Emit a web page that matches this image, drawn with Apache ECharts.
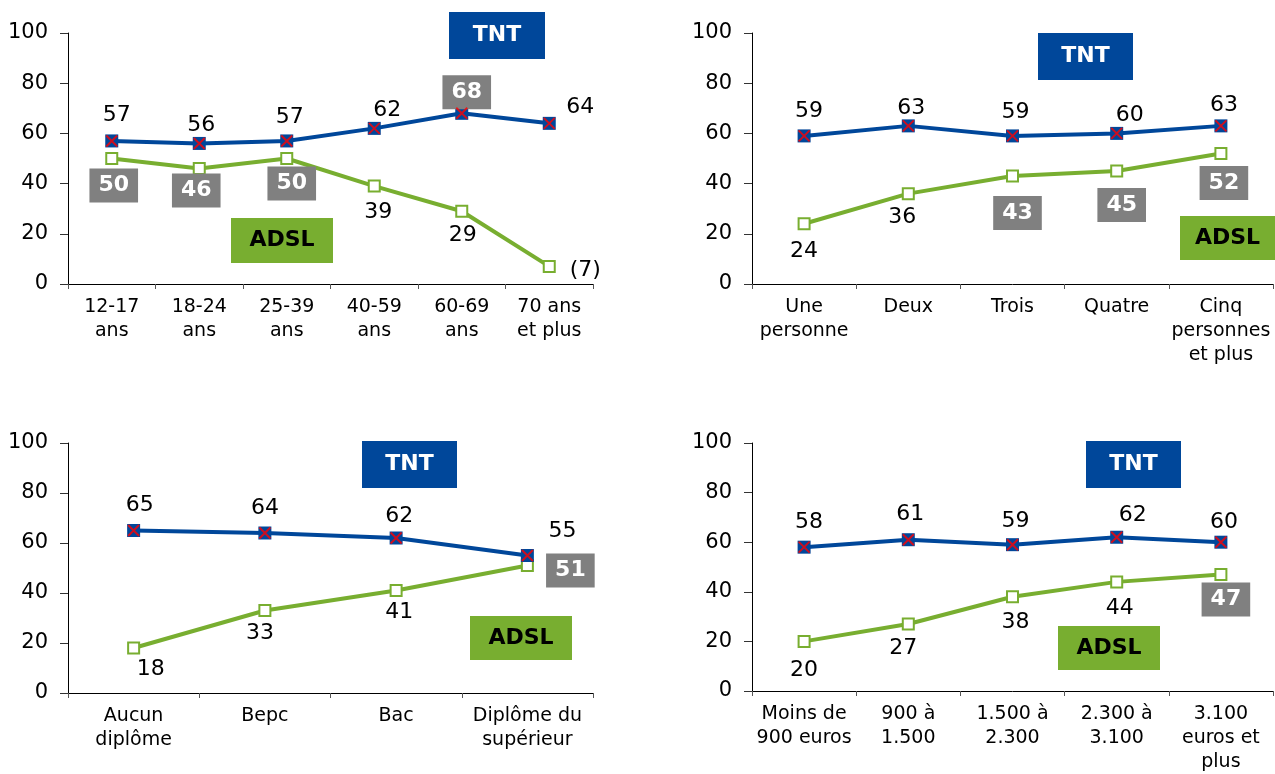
<!DOCTYPE html>
<html>
<head>
<meta charset="utf-8">
<script src="https://cdn.jsdelivr.net/npm/echarts@6/dist/echarts.min.js"></script>
<style>
html,body{margin:0;padding:0;background:#fff;}
#main{width:1275px;height:774px;}
</style>
</head>
<body>
<div id="main"></div>
<script>
// ---- data ----
const cats1 = ['12-17\nans', '18-24\nans', '25-39\nans', '40-59\nans', '60-69\nans', '70 ans\net plus'];
const tnt1 = [57, 56, 57, 62, 68, 64];
const adsl1 = [50, 46, 50, 39, 29, 7];

const cats2 = ['Une\npersonne', 'Deux', 'Trois', 'Quatre', 'Cinq\npersonnes\net plus'];
const tnt2 = [59, 63, 59, 60, 63];
const adsl2 = [24, 36, 43, 45, 52];

const cats3 = ['Aucun\ndiplôme', 'Bepc', 'Bac', 'Diplôme du\nsupérieur'];
const tnt3 = [65, 64, 62, 55];
const adsl3 = [18, 33, 41, 51];

const cats4 = ['Moins de\n900 euros', '900 à\n1.500', '1.500 à\n2.300', '2.300 à\n3.100', '3.100\neuros et\nplus'];
const tnt4 = [58, 61, 59, 62, 60];
const adsl4 = [20, 27, 38, 44, 47];

const yTicks = [0, 20, 40, 60, 80, 100];
const seriesNames = ['TNT', 'ADSL'];

// ---- label placement (kind, dx, dy) ----
const lab1t = [['p',5,-26],['p',2,-18],['p',3,-24],['p',13,-18],['b',5,-21],['p',31,-16]];
const lab1a = [['b',2,27],['b',-3,22],['b',5,25],['p',4,26],['p',1,24],['paren',36,4]];
const lab2t = [['p',5,-25],['p',3,-18],['p',3,-24],['p',13,-18],['p',3,-21]];
const lab2a = [['p',0,28],['p',-6,24],['b',5,37],['b',5,34],['b',3,29.5]];
const lab3t = [['p',6,-25],['p',0,-25],['p',3,-22],['p',35,-24]];
const lab3a = [['p',17,21],['p',-5,23],['p',3,22],['b',43,5]];
const lab4t = [['p',5,-25],['p',2,-25],['p',3,-23],['p',16,-22],['p',3,-20]];
const lab4a = [['p',0,29],['p',-5,24],['p',3,26],['p',3,26],['b',5,25]];

// ---- styles ----
const FONT = 'DejaVu Sans';
const BLUE = '#00479a';
const GREEN = '#78ae30';
const GRAY = '#808080';

const grids = [
  {left: 68, top: 33, width: 525, height: 251},
  {left: 752, top: 33, width: 521, height: 251},
  {left: 68, top: 443, width: 525, height: 250},
  {left: 752, top: 443, width: 521, height: 250}
];

const charts = [
  {cats: cats1, tnt: tnt1, adsl: adsl1, lt: lab1t, la: lab1a},
  {cats: cats2, tnt: tnt2, adsl: adsl2, lt: lab2t, la: lab2a},
  {cats: cats3, tnt: tnt3, adsl: adsl3, lt: lab3t, la: lab3a},
  {cats: cats4, tnt: tnt4, adsl: adsl4, lt: lab4t, la: lab4a}
];

const boxes = [
  {text: 'TNT', x: 449, y: 12, w: 96, h: 47, fill: BLUE, color: '#fff'},
  {text: 'ADSL', x: 231, y: 218, w: 102, h: 45, fill: GREEN, color: '#000'},
  {text: 'TNT', x: 1038, y: 33, w: 95, h: 47, fill: BLUE, color: '#fff'},
  {text: 'ADSL', x: 1180, y: 216, w: 95, h: 44, fill: GREEN, color: '#000'},
  {text: 'TNT', x: 362, y: 441, w: 95, h: 47, fill: BLUE, color: '#fff'},
  {text: 'ADSL', x: 470, y: 616, w: 102, h: 44, fill: GREEN, color: '#000'},
  {text: 'TNT', x: 1086, y: 441, w: 95, h: 47, fill: BLUE, color: '#fff'},
  {text: 'ADSL', x: 1058, y: 626, w: 102, h: 44, fill: GREEN, color: '#000'}
];

function labelFor(spec) {
  const kind = spec[0];
  const base = {show: true, position: 'inside', offset: [spec[1], spec[2]], fontFamily: FONT};
  if (kind === 'b') {
    return Object.assign(base, {
      color: '#fff', fontWeight: 'bold', fontSize: 22, lineHeight: 24,
      backgroundColor: GRAY, padding: [5, 9, 5, 9]
    });
  }
  if (kind === 'paren') {
    return Object.assign(base, {color: '#000', fontSize: 22, formatter: '({c})'});
  }
  return Object.assign(base, {color: '#000', fontSize: 22});
}

const xAxes = [], yAxes = [], series = [];
charts.forEach((c, i) => {
  xAxes.push({
    type: 'category', gridIndex: i, data: c.cats, boundaryGap: true,
    axisLine: {show: true, lineStyle: {color: '#000', width: 1}},
    axisTick: {show: true, length: 5, lineStyle: {color: '#555'}},
    axisLabel: {interval: 0, color: '#000', fontFamily: FONT, fontSize: 19, lineHeight: 24, margin: 11},
    splitLine: {show: false}
  });
  yAxes.push({
    type: 'value', gridIndex: i, min: yTicks[0], max: yTicks[yTicks.length - 1],
    interval: yTicks[1] - yTicks[0],
    axisLine: {show: true, lineStyle: {color: '#000', width: 1}},
    axisTick: {show: true, length: 8, lineStyle: {color: '#333'}},
    axisLabel: {color: '#000', fontFamily: FONT, fontSize: 21, margin: 20},
    splitLine: {show: false}
  });
  series.push({
    name: seriesNames[1], type: 'line', xAxisIndex: i, yAxisIndex: i,
    data: c.adsl.map((v, k) => ({value: v, label: labelFor(c.la[k])})),
    symbol: 'rect', symbolSize: 11,
    lineStyle: {color: GREEN, width: 4},
    itemStyle: {color: '#fff', borderColor: GREEN, borderWidth: 2},
    z: 2, animation: false
  });
  series.push({
    name: seriesNames[0], type: 'line', xAxisIndex: i, yAxisIndex: i,
    data: c.tnt.map((v, k) => ({value: v, label: labelFor(c.lt[k])})),
    symbol: 'rect', symbolSize: 13,
    lineStyle: {color: BLUE, width: 4},
    itemStyle: {color: BLUE, borderColor: BLUE, borderWidth: 0},
    z: 3, animation: false
  });
  series.push({
    name: seriesNames[0] + ' x', type: 'scatter', xAxisIndex: i, yAxisIndex: i,
    data: c.tnt.slice(),
    symbol: 'path://M0,0L10,10M10,0L0,10', symbolSize: 11,
    itemStyle: {color: 'none', borderColor: '#ff0000', borderWidth: 2},
    label: {show: false}, z: 4, silent: true, animation: false
  });
});

const graphic = [];
boxes.forEach(b => {
  graphic.push({
    type: 'rect', x: b.x, y: b.y, z: 10,
    shape: {x: 0, y: 0, width: b.w, height: b.h},
    style: {fill: b.fill}
  });
  graphic.push({
    type: 'text', x: b.x + b.w / 2, y: b.y + b.h / 2, z: 11,
    style: {
      text: b.text, fill: b.color, align: 'center', verticalAlign: 'middle',
      font: 'bold 22px "' + FONT + '"'
    }
  });
});

const chart = echarts.init(document.getElementById('main'), null, {renderer: 'canvas'});
chart.setOption({
  animation: false,
  backgroundColor: '#fff',
  grid: grids,
  xAxis: xAxes,
  yAxis: yAxes,
  series: series,
  graphic: graphic
});
</script>
</body>
</html>
